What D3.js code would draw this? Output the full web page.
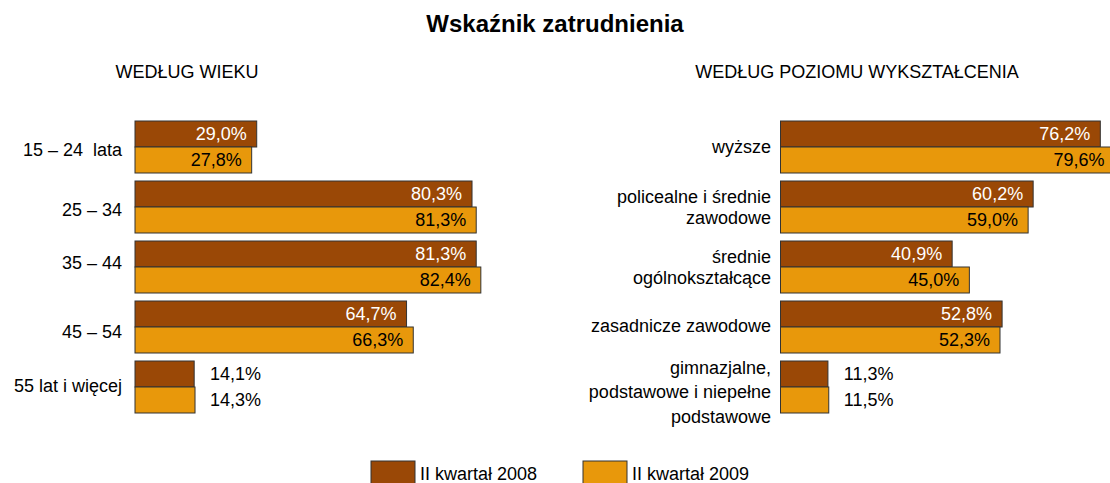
<!DOCTYPE html>
<html>
<head>
<meta charset="utf-8">
<script src="https://cdn.jsdelivr.net/npm/d3@7"></script>
<style>
  body { margin: 0; background: #fff; }
  svg { font-family: "Liberation Sans", Arial, sans-serif; }
</style>
</head>
<body>
<svg width="1110" height="483"></svg>
<script>
// data
var ageCats = ["15 – 24  lata", "25 – 34", "35 – 44", "45 – 54", "55 lat i więcej"];
var age2008 = [29.0, 80.3, 81.3, 64.7, 14.1];
var age2009 = [27.8, 81.3, 82.4, 66.3, 14.3];

var eduCats = ["wyższe", "policealne i średnie|zawodowe", "średnie|ogólnokształcące",
               "zasadnicze zawodowe", "gimnazjalne,|podstawowe i niepełne|podstawowe"];
var edu2008 = [76.2, 60.2, 40.9, 52.8, 11.3];
var edu2009 = [79.6, 59.0, 45.0, 52.3, 11.5];

var seriesNames = ["II kwartał 2008", "II kwartał 2009"];
var colors = ["#9a4806", "#e8980b"];

var svg = d3.select("svg");

svg.append("text")
  .attr("x", 555).attr("y", 32)
  .attr("text-anchor", "middle")
  .style("font-size", "24px").style("font-weight", "bold")
  .text("Wskaźnik zatrudnienia");

function fmt(v) { return d3.format(".1f")(v).replace(".", ",") + "%"; }

function panel(x0, labelX, title, titleX, cats, s1, s2, shift) {
  var x = d3.scaleLinear().domain([0, 100]).range([x0, x0 + 419.7]);
  var y = d3.scaleBand().domain(cats).range([117, 417])
    .paddingInner(8 / 60).paddingOuter(4 / 60);
  var bh = y.bandwidth() / 2;

  svg.append("text")
    .attr("x", titleX).attr("y", 78)
    .attr("text-anchor", "middle")
    .style("font-size", "18px")
    .text(title);

  var g = svg.append("g");
  [s1, s2].forEach(function(s, si) {
    g.selectAll(".b" + si)
      .data(cats)
      .enter().append("rect")
      .attr("x", x(0))
      .attr("y", function(d) { return y(d) + si * bh; })
      .attr("width", function(d, i) { return x(s[i]) - x(0); })
      .attr("height", bh)
      .attr("fill", colors[si])
      .attr("stroke", "#333")
      .attr("stroke-width", 1);

    g.selectAll(".v" + si)
      .data(cats)
      .enter().append("text")
      .attr("x", function(d, i) { return s[i] < 20 ? x(Math.max(s1[i], s2[i])) + 15 : x(s[i]) - 10; })
      .attr("y", function(d) { return y(d) + si * bh + bh / 2; })
      .attr("dy", "0.35em")
      .attr("text-anchor", function(d, i) { return s[i] < 20 ? "start" : "end"; })
      .attr("fill", function(d, i) { return (si == 0 && s[i] >= 20) ? "#fff" : "#000"; })
      .style("font-size", "18px")
      .text(function(d, i) { return fmt(s[i]); });
  });

  // category labels, split on "|"
  cats.forEach(function(c, i) {
    var lines = c.split("|");
    var lh = lines.length > 2 ? 24.6 : 21;
    var cy = y(c) + y.bandwidth() / 2 + shift[i];
    var t = svg.append("text")
      .attr("text-anchor", "end")
      .style("font-size", "18px")
      .style("white-space", "pre");
    lines.forEach(function(l, k) {
      t.append("tspan")
        .attr("x", labelX)
        .attr("y", cy + (k - (lines.length - 1) / 2) * lh)
        .attr("dy", "0.35em")
        .text(l);
    });
  });
}

panel(135, 122, "WEDŁUG WIEKU", 187, ageCats, age2008, age2009, [3, 3, -4, 5, -1]);
panel(780.5, 771, "WEDŁUG POZIOMU WYKSZTAŁCENIA", 857, eduCats, edu2008, edu2009, [0, 0, 0, -1, 5]);

// legend
var leg = svg.append("g").selectAll("g")
  .data(seriesNames)
  .enter().append("g")
  .attr("transform", function(d, i) { return "translate(" + (371 + i * 212) + ",461)"; });
leg.append("rect")
  .attr("width", 44).attr("height", 26)
  .attr("fill", function(d, i) { return colors[i]; })
  .attr("stroke", "#333");
leg.append("text")
  .attr("x", 49).attr("y", 19)
  .style("font-size", "18px")
  .text(function(d) { return d; });
</script>
</body>
</html>
